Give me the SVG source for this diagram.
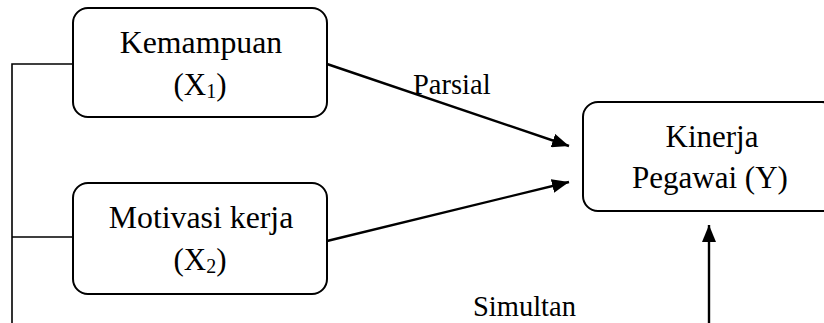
<svg xmlns="http://www.w3.org/2000/svg" width="824" height="323" viewBox="0 0 824 323">
<style>
.box{fill:#fff;stroke:#000;stroke-width:2}
text{font-family:'Liberation Serif',serif;fill:#000}
.t{font-size:31px;text-anchor:middle}
.tl{font-size:31.8px}
.lbl{font-size:28.5px}
.sub{font-size:20px}
.ln{fill:none;stroke:#000;stroke-width:1.6}
.ar{fill:none;stroke:#000;stroke-width:2.4;marker-end:url(#ah)}
</style>
<defs>
<marker id="ah" markerUnits="userSpaceOnUse" markerWidth="18" markerHeight="14" refX="17" refY="7" orient="auto">
<path d="M0,0 L17,7 L0,14 z" fill="#000"/>
</marker>
</defs>
<rect width="824" height="323" fill="#fff"/>
<g id="connectors">
<path class="ln" d="M12,323 V64 H73 M12,237 H73"/>
<line class="ar" x1="327" y1="64" x2="569" y2="146"/>
<line class="ar" x1="327" y1="241" x2="569" y2="182"/>
<line class="ar" x1="709" y1="323" x2="709" y2="225"/>
<text class="lbl" x="413" y="94" font-family="Liberation Serif">Parsial</text>
<text class="lbl" x="473" y="316" font-family="Liberation Serif">Simultan</text>
</g>
<g id="x1">
<rect class="box" x="73" y="8" width="254" height="109" rx="15"/>
<text class="t tl" x="201" y="53" font-family="Liberation Serif">Kemampuan</text>
<text class="t" x="200" y="95" font-family="Liberation Serif">(X<tspan class="sub" dy="3">1</tspan><tspan dy="-3">)</tspan></text>
</g>
<g id="x2">
<rect class="box" x="73" y="183" width="254" height="111" rx="15"/>
<text class="t tl" x="201" y="228" font-family="Liberation Serif">Motivasi kerja</text>
<text class="t" x="200" y="270" font-family="Liberation Serif">(X<tspan class="sub" dy="3">2</tspan><tspan dy="-3">)</tspan></text>
</g>
<g id="y">
<rect class="box" x="583" y="102" width="254" height="109" rx="15"/>
<text class="t" x="712" y="147" font-family="Liberation Serif">Kinerja</text>
<text class="t" x="710" y="188" font-family="Liberation Serif">Pegawai (Y)</text>
</g>
</svg>
